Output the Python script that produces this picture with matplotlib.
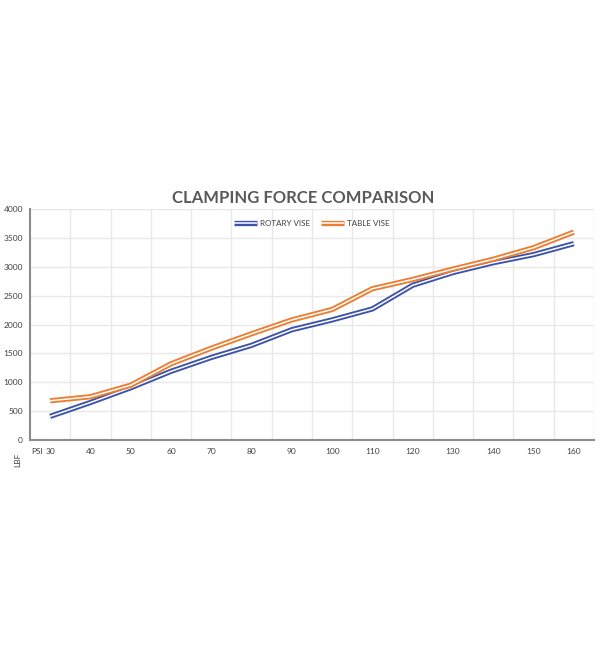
"""
Clamping force comparison: rotary vise vs table vise, LBF against PSI.
"""
import matplotlib.pyplot as plt
import matplotlib.patheffects as pe
import numpy as np

# ── Data ───────────────────────────────────────────────────────────────────
PSI = [30, 40, 50, 60, 70, 80, 90, 100, 110, 120, 130, 140, 150, 160]
ROTARY = [410, 650, 905, 1190, 1430, 1640, 1910, 2080, 2270, 2680, 2900, 3070, 3210, 3400]
TABLE  = [680, 750, 950, 1320, 1590, 1840, 2080, 2260, 2620, 2780, 2960, 3130, 3330, 3600]
Y_TICKS = [0, 500, 1000, 1500, 2000, 2500, 3000, 3500, 4000]

# ── Colors ─────────────────────────────────────────────────────────────────
C_BLUE   = "#3c53a8"
C_ORANGE = "#ed7d31"
C_TEXT   = "#595959"
C_GRID   = "#e8e8e8"
C_AXIS   = "#8c8c8c"

plt.rcParams["font.family"] = ["Lato", "DejaVu Sans"]

fig = plt.figure(figsize=(6, 6.5), dpi=100)
ax = fig.add_axes([0.05, 0.323, 0.94, 0.3555])

x = np.arange(len(PSI))


def double_line(vals, color, label):
    # Excel-style compound line: coloured outline with a thin white core
    ax.plot(x, vals, color="white", lw=1.1, label=label, zorder=3,
            solid_joinstyle="round", solid_capstyle="butt",
            path_effects=[pe.Stroke(linewidth=3.8, foreground=color),
                          pe.Normal()])


double_line(ROTARY, C_BLUE, "ROTARY VISE")
double_line(TABLE, C_ORANGE, "TABLE VISE")

# Axes
ax.set_xlim(-0.5, len(PSI) - 0.5)
ax.set_ylim(0, 4000)
ax.set_xticks(x)
ax.set_xticklabels([str(p) for p in PSI])
ax.set_yticks(Y_TICKS)
ax.set_xticks(np.arange(0.5, len(PSI), 1.0), minor=True)
ax.tick_params(axis="both", which="both", length=0, labelsize=6.0,
               labelcolor="#404040")
ax.tick_params(axis="x", pad=6)
ax.tick_params(axis="y", pad=5)

ax.grid(True, which="minor", axis="x", color=C_GRID, lw=1.0)
ax.grid(True, which="major", axis="y", color=C_GRID, lw=1.0)
ax.set_axisbelow(True)

for side in ("top", "right"):
    ax.spines[side].set_visible(False)
for side in ("left", "bottom"):
    ax.spines[side].set_color(C_AXIS)
    ax.spines[side].set_linewidth(1.5)

# Title and axis tags
fig.text(0.505, 0.695, "CLAMPING FORCE COMPARISON", ha="center", va="center",
         fontsize=12, fontweight="bold", color=C_TEXT)
fig.text(0.062, 0.305, "PSI", ha="center", va="center", fontsize=6.0,
         color="#404040")
fig.text(0.03, 0.292, "LBF", ha="center", va="center", fontsize=6.0,
         color="#404040", rotation=90)

# Legend
ax.legend(loc="upper center", bbox_to_anchor=(0.5, 0.985), ncol=2,
          frameon=False, fontsize=5.8, handlelength=2.8, columnspacing=1.4,
          handletextpad=0.4, labelcolor="#404040")

fig.savefig("out.png", dpi=100, facecolor="white")
